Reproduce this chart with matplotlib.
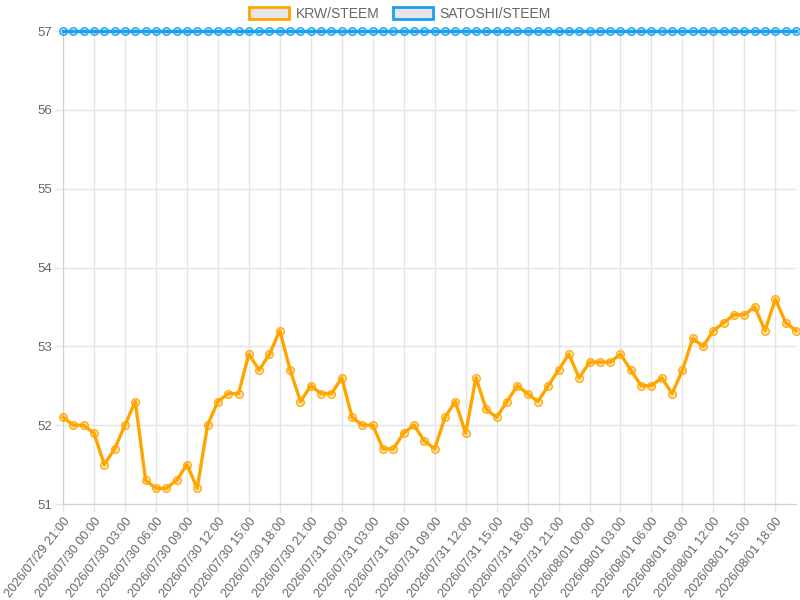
import matplotlib.pyplot as plt
import numpy as np
import pandas as pd
from matplotlib.patches import Patch

# hourly data, 2026/07/29 21:00 .. 2026/08/01 20:00
start = '2026-07-29 21:00'
krw_steem = [52.1, 52.0, 52.0, 51.9, 51.5, 51.7, 52.0, 52.3, 51.3, 51.2,
             51.2, 51.3, 51.5, 51.2, 52.0, 52.3, 52.4, 52.4, 52.9, 52.7,
             52.9, 53.2, 52.7, 52.3, 52.5, 52.4, 52.4, 52.6, 52.1, 52.0,
             52.0, 51.7, 51.7, 51.9, 52.0, 51.8, 51.7, 52.1, 52.3, 51.9,
             52.6, 52.2, 52.1, 52.3, 52.5, 52.4, 52.3, 52.5, 52.7, 52.9,
             52.6, 52.8, 52.8, 52.8, 52.9, 52.7, 52.5, 52.5, 52.6, 52.4,
             52.7, 53.1, 53.0, 53.2, 53.3, 53.4, 53.4, 53.5, 53.2, 53.6,
             53.3, 53.2]
satoshi_steem = [57] * len(krw_steem)
y_ticks = [51, 52, 53, 54, 55, 56, 57]

times = pd.date_range(start, periods=len(krw_steem), freq='h')
x = np.arange(len(times))
tick_pos = x[::3]
tick_lab = [t.strftime('%Y/%m/%d %H:%M') for t in times[::3]]

orange = '#FFA500'
blue = '#1AA0F0'
txt = '#666666'
grid = '#e5e5e5'

plt.rcParams['font.family'] = ['Liberation Sans', 'DejaVu Sans']

fig = plt.figure(figsize=(8, 6), dpi=100)
ax = fig.add_axes([63/800, 1-504/600, (796-63)/800, (504-31)/600])

ax.plot(x, krw_steem, color=orange, lw=2.4, marker='o', ms=5.5,
        mfc=(1, 0.65, 0, 0.3), mec=orange, mew=0.9, zorder=3, clip_on=False)
ax.plot(x, satoshi_steem, color=blue, lw=2.4, marker='o', ms=5.5,
        mfc=(0.1, 0.63, 0.94, 0.3), mec=blue, mew=0.9, zorder=3, clip_on=False)

ax.set_xlim(0, len(x) - 1)
ax.set_ylim(51, 57)
ax.set_yticks(y_ticks)
ax.set_xticks(tick_pos)
ax.set_xticklabels(tick_lab, rotation=52, ha='right', rotation_mode='anchor')

ax.grid(True, color=grid, lw=1)
ax.set_axisbelow(True)
for s in ['top', 'right']:
    ax.spines[s].set_visible(False)
for s in ['left', 'bottom']:
    ax.spines[s].set_color('#d0d0d0')
ax.tick_params(axis='both', colors=grid, labelcolor=txt, labelsize=9,
               length=6, width=1)
ax.tick_params(axis='y', pad=2, labelsize=9.5)
ax.tick_params(axis='x', pad=2)

handles = [Patch(facecolor='#e6e6e6', edgecolor=orange, lw=2, label='KRW/STEEM'),
           Patch(facecolor='#e6e6e6', edgecolor=blue, lw=2, label='SATOSHI/STEEM')]
leg = fig.legend(handles=handles, loc='center', bbox_to_anchor=(0.5, 1-14/600),
                 ncol=2, frameon=False, fontsize=10, handlelength=2.9,
                 handleheight=0.9, columnspacing=0.9, handletextpad=0.5)
for t in leg.get_texts():
    t.set_color(txt)

fig.savefig('out.png', dpi=100)
